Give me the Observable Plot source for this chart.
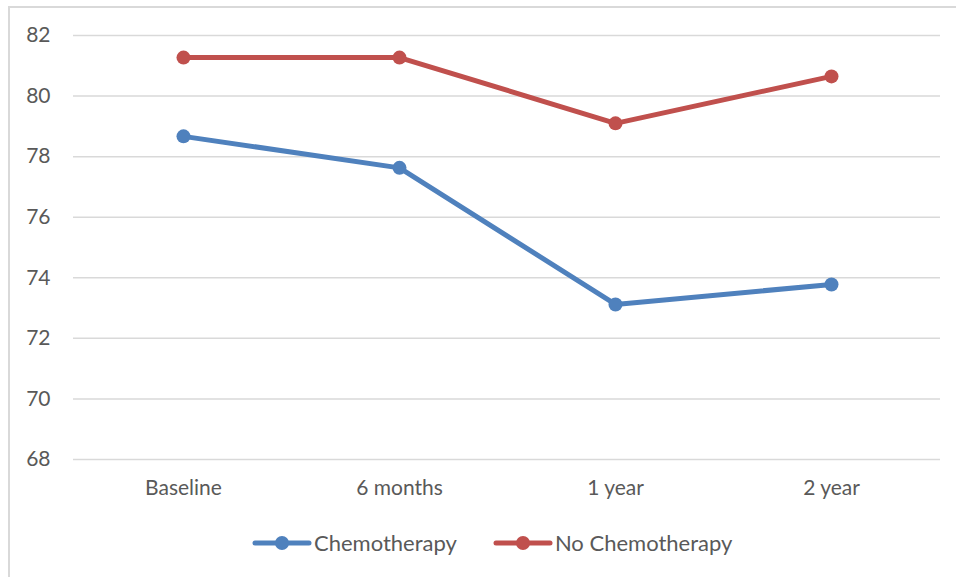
<!DOCTYPE html>
<html>
<head>
<meta charset="utf-8">
<script src="https://cdn.jsdelivr.net/npm/d3@7"></script>
<script src="https://cdn.jsdelivr.net/npm/@observablehq/plot@0.6"></script>
<style>
  body { margin: 0; background: #fff; font-family: Lato, "Open Sans", sans-serif; }
  #frame { position: absolute; left: 8px; top: 6px; width: 1000px; height: 620px; border: 2px solid #d9d9d9; box-sizing: border-box; }
  #chart { position: absolute; left: 0; top: 0; }
  #legend { position: absolute; left: 252px; top: 529px; display: flex; gap: 36px; font-size: 22px; color: #595959; line-height: 28px; }
  .item { display: flex; align-items: center; }
  .item svg { margin-right: 2px; }
</style>
</head>
<body>
<div id="frame"></div>
<div id="chart"></div>
<div id="legend"></div>
<script>
const timepoints = ["Baseline", "6 months", "1 year", "2 year"];
const chemotherapy = [78.67, 77.63, 73.12, 73.78];
const noChemotherapy = [81.27, 81.27, 79.1, 80.65];
const seriesNames = ["Chemotherapy", "No Chemotherapy"];
const seriesColors = ["#4F81BD", "#C0504D"];
const yTicks = [68, 70, 72, 74, 76, 78, 80, 82];

const data = [
  ...timepoints.map((t, i) => ({time: t, value: chemotherapy[i], series: seriesNames[0]})),
  ...timepoints.map((t, i) => ({time: t, value: noChemotherapy[i], series: seriesNames[1]}))
];

const plot = Plot.plot({
  width: 956,
  height: 500,
  marginLeft: 73,
  marginRight: 16,
  marginTop: 35,
  marginBottom: 41,
  style: {fontFamily: "Lato, 'Open Sans', sans-serif", fontSize: "21px", color: "#595959", background: "transparent"},
  x: {type: "band", domain: timepoints, padding: 0},
  y: {domain: [68, 82]},
  color: {domain: seriesNames, range: seriesColors},
  marks: [
    Plot.ruleY(yTicks, {stroke: "#d9d9d9", strokeWidth: 1.5, strokeOpacity: 1}),
    Plot.axisY({ticks: yTicks, tickSize: 0, tickPadding: 23, label: null, fill: "#595959"}),
    Plot.axisX({tickSize: 0, tickPadding: 21, label: null, fill: "#595959"}),
    Plot.lineY(data, {x: "time", y: "value", stroke: "series", strokeWidth: 5, z: "series"}),
    Plot.dot(data, {x: "time", y: "value", fill: "series", r: 7})
  ]
});
document.getElementById("chart").appendChild(plot);

const legend = document.getElementById("legend");
seriesNames.forEach((name, i) => {
  const item = document.createElement("div");
  item.className = "item";
  item.innerHTML = `<svg width="60" height="16"><line x1="3" y1="8" x2="57" y2="8" stroke="${seriesColors[i]}" stroke-width="5" stroke-linecap="round"/><circle cx="30" cy="8" r="7" fill="${seriesColors[i]}"/></svg><span>${name}</span>`;
  legend.appendChild(item);
});
</script>
</body>
</html>
